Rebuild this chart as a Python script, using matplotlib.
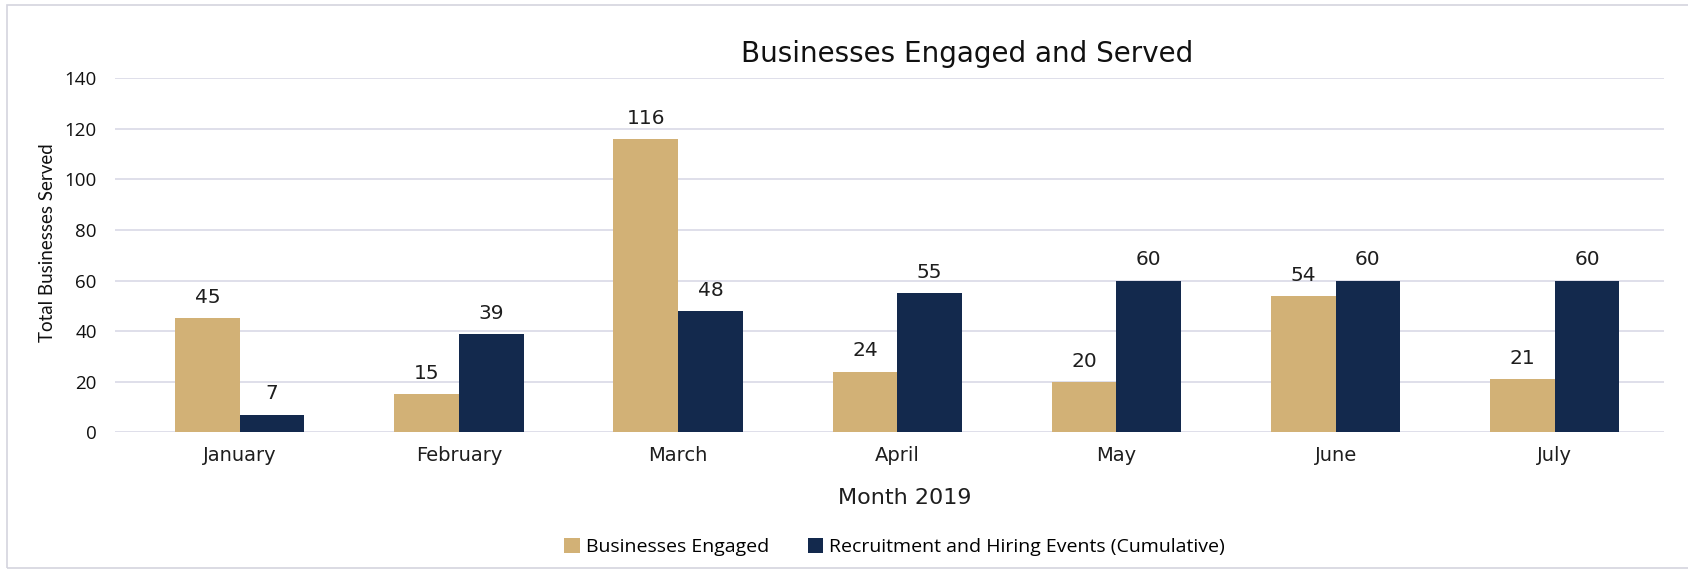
import matplotlib
matplotlib.use("Agg")
import matplotlib.pyplot as plt
from matplotlib.patches import Rectangle
import numpy as np

months = ["January", "February", "March", "April", "May", "June", "July"]
engaged = [45, 15, 116, 24, 20, 54, 21]
events = [7, 39, 48, 55, 60, 60, 60]
series_names = ["Businesses Engaged", "Recruitment and Hiring Events (Cumulative)"]

TAN = "#D2B176"
NAVY = "#13294D"
GRID = "#D9D9E6"
TEXT = "#1E1E1E"

fig = plt.figure(figsize=(16.88, 5.71), dpi=100)
ax = fig.add_axes([0.068, 0.243, 0.918, 0.620])

x = np.arange(len(months))
w = 0.295
b1 = ax.bar(x - w / 2, engaged, w, color=TAN, label=series_names[0], zorder=2)
b2 = ax.bar(x + w / 2, events, w, color=NAVY, label=series_names[1], zorder=2)

# value labels over each bar
for bars, vals in ((b1, engaged), (b2, events)):
    for rect, v in zip(bars, vals):
        ax.annotate(str(v), (rect.get_x() + rect.get_width() / 2, v),
                    xytext=(0, 8), textcoords="offset points",
                    ha="center", va="bottom", fontsize=14.5,
                    family="DejaVu Sans", color=TEXT)

ax.set_ylim(0, 140)
ax.set_xlim(-0.57, 6.5)
ax.set_yticks(range(0, 141, 20))
ax.yaxis.grid(True, color=GRID, linewidth=1.2, zorder=0)
ax.set_axisbelow(True)
for s in ax.spines.values():
    s.set_visible(False)
ax.tick_params(length=0)
ax.tick_params(axis="y", pad=13)
ax.tick_params(axis="x", pad=10)

ax.set_xticks(x)
ax.set_xticklabels(months, fontsize=14, family="DejaVu Sans", color=TEXT)
for lbl in ax.get_yticklabels():
    lbl.set_fontsize(13.5)
    lbl.set_family("Open Sans")
    lbl.set_color("#111111")

fig.text(0.573, 0.905, "Businesses Engaged and Served", ha="center", va="center",
         fontsize=20, family="DejaVu Sans", color="#111111")
fig.text(0.536, 0.128, "Month 2019", ha="center", va="center",
         fontsize=16, family="DejaVu Sans", color=TEXT)
fig.text(0.028, 0.575, "Total Businesses Served", rotation=90, ha="center",
         va="center", fontsize=13.5, family="Lato", color="#111111")

fig.legend(loc="center", bbox_to_anchor=(0.530, 0.042), ncol=2, frameon=False,
           prop={"family": "Open Sans", "size": 14},
           handlelength=0.8, handleheight=0.8, handletextpad=0.3,
           columnspacing=2.0)

# thin frame around the chart area
fig.patches.append(Rectangle((0.004, 0.005), 1.2, 0.986, transform=fig.transFigure,
                             fill=False, edgecolor="#D4D4DE", linewidth=1.2))

fig.savefig("out.png", dpi=100, facecolor="white")
